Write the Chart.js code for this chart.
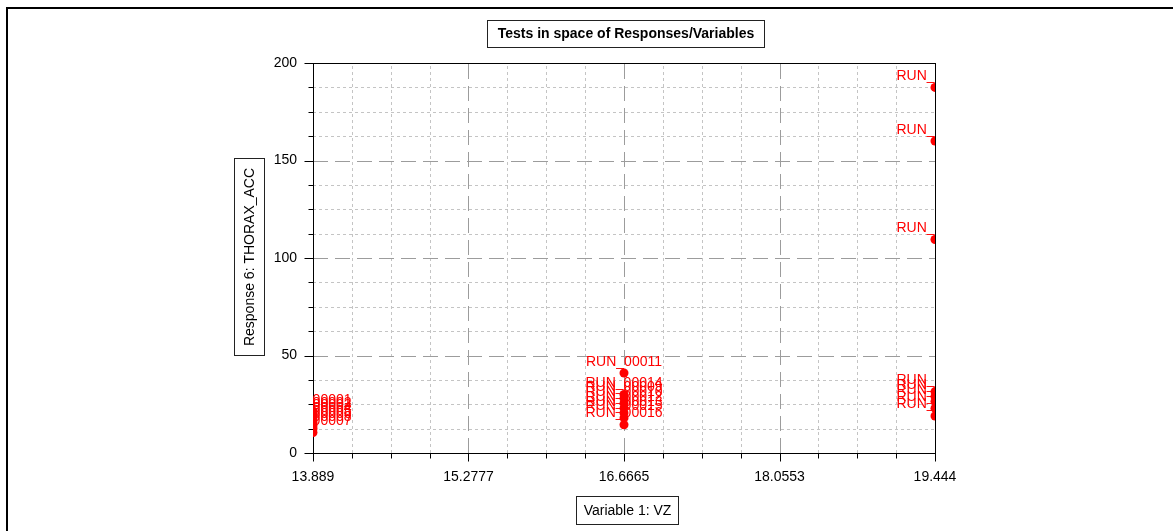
<!DOCTYPE html>
<html>
<head>
<meta charset="utf-8">
<script src="https://cdn.jsdelivr.net/npm/chart.js@4/dist/chart.umd.min.js"></script>
<style>
  html, body { margin: 0; padding: 0; background: #fff; }
  #wrap { width: 1173px; height: 531px; position: relative; }
  canvas { display: block; }
</style>
</head>
<body>
<div id="wrap"><canvas id="c" width="1173" height="531"></canvas></div>
<script>
// ---- data ----
const runNames = [
  'RUN_00001','RUN_00002','RUN_00003','RUN_00004','RUN_00005','RUN_00006','RUN_00007','RUN_00008',
  'RUN_00009','RUN_00010','RUN_00011','RUN_00012','RUN_00013','RUN_00014','RUN_00015','RUN_00016',
  'RUN_00017','RUN_00018','RUN_00019','RUN_00020','RUN_00021','RUN_00022','RUN_00023','RUN_00024'
];
const vzValues = [
  13.889, 13.889, 13.889, 13.889, 13.889, 13.889, 13.889, 13.889,
  16.6665, 16.6665, 16.6665, 16.6665, 16.6665, 16.6665, 16.6665, 16.6665,
  19.444, 19.444, 19.444, 19.444, 19.444, 19.444, 19.444, 19.444
];
const thoraxValues = [
  21.5, 20.0, 18.5, 17.0, 15.5, 14.0, 10.5, 12.5,
  28.0, 25.5, 41.0, 23.0, 20.5, 30.0, 18.0, 14.5,
  187.5, 160.0, 109.5, 31.5, 29.0, 26.5, 23.0, 19.0
];
const xTickLabels = ['13.889', '15.2777', '16.6665', '18.0553', '19.444'];
const yTickLabels = ['0', '50', '100', '150', '200'];
const chartTitle = 'Tests in space of Responses/Variables';
const xAxisTitle = 'Variable 1: VZ';
const yAxisTitle = 'Response 6: THORAX_ACC';

// ---- tick positions (majors from labels, 4 subdivisions each) ----
const SUB = 4;
function subdivide(majors, n) {
  const out = [];
  for (let k = 0; k < majors.length - 1; k++) {
    for (let j = 0; j < n; j++) out.push(majors[k] + j * (majors[k + 1] - majors[k]) / n);
  }
  out.push(majors[majors.length - 1]);
  return out;
}
const xMajors = xTickLabels.map(Number);
const yMajors = yTickLabels.map(Number);
const xTickValues = subdivide(xMajors, SUB);
const yTickValues = subdivide(yMajors, SUB);

const FONT = "'Liberation Sans', Arial, Helvetica, sans-serif";
const RED = '#ff0000';

const decorPlugin = {
  id: 'decor',
  beforeDraw(chart) {
    const ctx = chart.ctx;
    ctx.save();
    ctx.fillStyle = '#fff';
    ctx.fillRect(0, 0, chart.width, chart.height);
    // outer frame
    ctx.fillStyle = '#000';
    ctx.fillRect(6, 7, chart.width - 6, 2);
    ctx.fillRect(6, 7, 2, chart.height - 7);
    const ca = chart.chartArea;
    const cx = (ca.left + ca.right) / 2;
    // title box
    ctx.font = 'bold 14px ' + FONT;
    const tw = ctx.measureText(chartTitle).width;
    ctx.strokeStyle = '#222';
    ctx.lineWidth = 1;
    const tbw = Math.round(tw + 20), tbh = 27;
    const tbx = Math.round(cx + 1 - tbw / 2) + 0.5, tby = 20.5;
    ctx.strokeRect(tbx, tby, tbw, tbh);
    ctx.fillStyle = '#000';
    ctx.textAlign = 'center';
    ctx.textBaseline = 'middle';
    ctx.fillText(chartTitle, tbx + tbw / 2, tby + tbh / 2 + 0.5);
    // x axis title box
    ctx.font = '14px ' + FONT;
    const xw = ctx.measureText(xAxisTitle).width;
    const xbw = Math.round(xw + 14), xbh = 28;
    const xbx = Math.round(cx + 3 - xbw / 2) + 0.5, xby = 496.5;
    ctx.strokeRect(xbx, xby, xbw, xbh);
    ctx.fillText(xAxisTitle, xbx + xbw / 2, xby + xbh / 2 + 0.5);
    // y axis title box
    const ybh = 197, ybw = 30;
    const ybx = 234.5, yby = 158.5;
    ctx.strokeRect(ybx, yby, ybw, ybh);
    ctx.translate(ybx + ybw / 2 + 0.5, yby + ybh / 2);
    ctx.rotate(-Math.PI / 2);
    ctx.fillText(yAxisTitle, 0, 0);
    ctx.restore();
  },
  beforeDatasetsDraw(chart) {
    const ctx = chart.ctx;
    const ca = chart.chartArea;
    const xs = chart.scales.x, ys = chart.scales.y;
    ctx.save();
    ctx.beginPath();
    ctx.rect(ca.left, ca.top, ca.right - ca.left, ca.bottom - ca.top);
    ctx.clip();
    ctx.lineWidth = 1;
    // minor dotted grid
    ctx.strokeStyle = '#c4c4c4';
    ctx.setLineDash([3, 3]);
    xTickValues.forEach((v, i) => {
      if (i % SUB === 0) return;
      const px = Math.round(xs.getPixelForValue(v)) + 0.5;
      ctx.beginPath(); ctx.moveTo(px, ca.bottom); ctx.lineTo(px, ca.top); ctx.stroke();
    });
    yTickValues.forEach((v, i) => {
      if (i % SUB === 0) return;
      const py = Math.round(ys.getPixelForValue(v)) + 0.5;
      ctx.beginPath(); ctx.moveTo(ca.left, py); ctx.lineTo(ca.right, py); ctx.stroke();
    });
    // major long-dash grid
    ctx.strokeStyle = '#9c9c9c';
    ctx.setLineDash([15, 7]);
    xMajors.forEach((v, i) => {
      if (i === 0 || i === xMajors.length - 1) return;
      const px = Math.round(xs.getPixelForValue(v)) + 0.5;
      ctx.beginPath(); ctx.moveTo(px, ca.bottom); ctx.lineTo(px, ca.top); ctx.stroke();
    });
    yMajors.forEach((v, i) => {
      if (i === 0 || i === yMajors.length - 1) return;
      const py = Math.round(ys.getPixelForValue(v)) + 0.5;
      ctx.beginPath(); ctx.moveTo(ca.left, py); ctx.lineTo(ca.right, py); ctx.stroke();
    });
    ctx.restore();

    // axis box and tick marks
    ctx.save();
    ctx.setLineDash([]);
    ctx.strokeStyle = '#000';
    ctx.lineWidth = 1;
    const L = Math.round(ca.left) + 0.5, R = Math.round(ca.right) + 0.5;
    const T = Math.round(ca.top) + 0.5, B = Math.round(ca.bottom) + 0.5;
    ctx.strokeRect(L, T, R - L, B - T);
    ctx.beginPath();
    yTickValues.forEach((v, i) => {
      const py = Math.round(ys.getPixelForValue(v)) + 0.5;
      const len = (i % SUB === 0) ? 9 : 5;
      ctx.moveTo(L - len, py); ctx.lineTo(L, py);
    });
    xTickValues.forEach((v, i) => {
      const px = Math.round(xs.getPixelForValue(v)) + 0.5;
      const len = (i % SUB === 0) ? 8 : 5;
      ctx.moveTo(px, B); ctx.lineTo(px, B + len);
    });
    ctx.stroke();
    ctx.restore();
  },
  afterDatasetsDraw(chart) {
    const ctx = chart.ctx;
    const ca = chart.chartArea;
    const xs = chart.scales.x, ys = chart.scales.y;
    ctx.save();
    ctx.beginPath();
    ctx.rect(ca.left, ca.top, ca.right - ca.left, ca.bottom - ca.top);
    ctx.clip();
    ctx.font = '14px ' + FONT;
    ctx.fillStyle = RED;
    ctx.textAlign = 'center';
    ctx.textBaseline = 'alphabetic';
    runNames.forEach((name, i) => {
      const px = xs.getPixelForValue(vzValues[i]);
      const py = ys.getPixelForValue(thoraxValues[i]);
      ctx.fillText(name, px, py - 7.5);
    });
    ctx.restore();
  }
};

const points = runNames.map((n, i) => ({ x: vzValues[i], y: thoraxValues[i] }));

new Chart(document.getElementById('c'), {
  type: 'scatter',
  data: {
    datasets: [{
      label: 'Tests',
      data: points,
      pointRadius: 4.5,
      pointHoverRadius: 4.5,
      pointBackgroundColor: RED,
      pointBorderColor: RED,
      pointBorderWidth: 0,
      clip: 0
    }]
  },
  options: {
    responsive: false,
    animation: false,
    devicePixelRatio: 1,
    events: [],
    layout: { padding: { left: 0, top: 63, right: 238, bottom: 0 } },
    plugins: {
      legend: { display: false },
      title: { display: false },
      tooltip: { enabled: false }
    },
    scales: {
      x: {
        type: 'linear',
        min: xMajors[0],
        max: xMajors[xMajors.length - 1],
        afterBuildTicks: (s) => { s.ticks = xTickValues.map(v => ({ value: v })); },
        afterFit: (s) => { s.height = 78; },
        grid: { display: true, drawOnChartArea: false, drawTicks: true, tickLength: 8, color: 'rgba(0,0,0,0)' },
        border: { display: false },
        ticks: {
          autoSkip: false,
          maxRotation: 0,
          padding: 8,
          color: '#000',
          font: { family: FONT, size: 14 },
          callback: (v, i) => (i % SUB === 0 ? xTickLabels[i / SUB] : '')
        }
      },
      y: {
        type: 'linear',
        min: yMajors[0],
        max: yMajors[yMajors.length - 1],
        afterBuildTicks: (s) => { s.ticks = yTickValues.map(v => ({ value: v })); },
        afterFit: (s) => { s.width = 313; },
        grid: { display: true, drawOnChartArea: false, drawTicks: true, tickLength: 8, color: 'rgba(0,0,0,0)' },
        border: { display: false },
        ticks: {
          autoSkip: false,
          padding: 8,
          color: '#000',
          font: { family: FONT, size: 14 },
          callback: (v, i) => (i % SUB === 0 ? yTickLabels[i / SUB] : '')
        }
      }
    }
  },
  plugins: [decorPlugin]
});
</script>
</body>
</html>
